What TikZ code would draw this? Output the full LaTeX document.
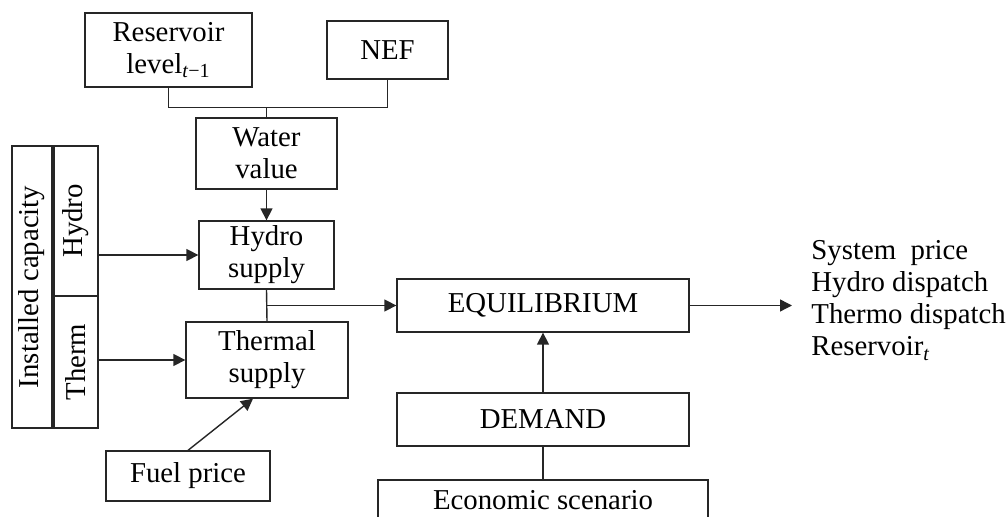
\documentclass[tikz,border=0pt]{standalone}
\usepackage{fontspec}
\setmainfont{Liberation Serif}
\usepackage{tikz}
\usetikzlibrary{arrows.meta,positioning,calc}

\begin{document}
\begin{tikzpicture}[x=0.5pt,y=-0.5pt,
      box/.style={rectangle,draw=black!85,fill=white,line width=0.65pt,
                  inner sep=0pt,font=\fontsize{14.4}{16}\selectfont,align=center},
      arr/.style={-{Triangle[length=6pt,width=6pt]},line width=0.7pt,black!85},
      lin/.style={line width=0.7pt,black!85}]
    \useasboundingbox (0,0) rectangle (1006,517);
    \node[box,minimum width=83.5pt,minimum height=37pt](res) at (168.5,50){Reservoir\\level\textsubscript{\textit{t}−1}};
    \node[box,minimum width=60.5pt,minimum height=29pt](nef) at (387.5,50){NEF};
    \node[box,minimum width=70.5pt,minimum height=35.5pt](water) at (266.5,153.5){Water\\value};
    \node[box,minimum width=67.5pt,minimum height=34pt](hsup) at (266.5,255){Hydro\\supply};
    \node[box,minimum width=81pt,minimum height=38pt](tsup) at (267,360){Thermal\\supply};
    \node[box,minimum width=82pt,minimum height=25pt](fuel) at (188,476){Fuel price};
    \node[box,rotate=90,minimum width=141pt,minimum height=20pt](inst) at (32,287){Installed capacity};
    \node[box,rotate=90,minimum width=75pt,minimum height=22pt](hyd) at (76,221){Hydro};
    \node[box,rotate=90,minimum width=66pt,minimum height=22pt](thm) at (76,362){Therm};
    \node[box,minimum width=146pt,minimum height=26.5pt](equ) at (543,305.5){EQUILIBRIUM};
    \node[box,minimum width=146pt,minimum height=26.5pt](dem) at (543,419.5){DEMAND};
    \node[box,minimum width=165pt,minimum height=20pt](eco) at (543,500){Economic scenario};
    \node[anchor=west,align=left,inner sep=0pt,font=\fontsize{14.4}{16}\selectfont](out) at (811,300.5)
        {System\ \ price\\Hydro dispatch\\Thermo dispatch\\Reservoir\textsubscript{\textit{t}}};
    \coordinate[above=5pt of water.north](wj);
    \coordinate(sj) at (hsup.south |- equ.west);
    \coordinate[left=9.5pt of out.west](outin);
    \draw[lin](res.south) |- (wj) -| (nef.south);
    \draw[lin](wj)--(water.north);
    \draw[arr](water)--(hsup);
    \draw[lin](hsup.south)--(tsup.north);
    \draw[arr](sj)--(equ.west);
    \draw[arr](hyd.south |- hsup.west)--(hsup.west);
    \draw[arr](thm.south |- tsup.west)--(tsup.west);
    \draw[arr](fuel.north)--([xshift=-7pt]tsup.south);
    \draw[arr](dem)--(equ);
    \draw[lin](eco)--(dem);
    \draw[arr](equ.east)--(equ.east -| outin);
  \end{tikzpicture}
\end{document}
